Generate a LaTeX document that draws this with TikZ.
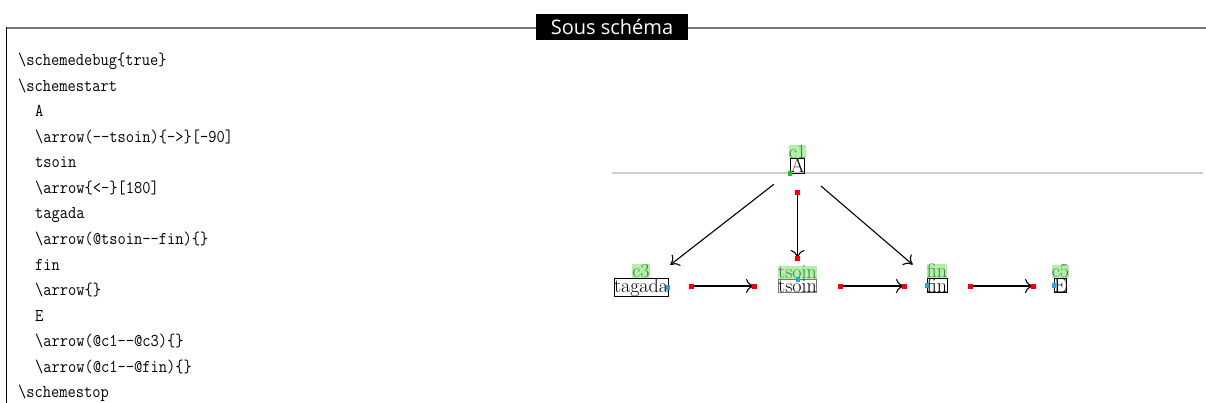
\documentclass[tikz,border=0pt]{standalone}
\usepackage{fontspec}
\newfontfamily\titlefont{Open Sans}
\usetikzlibrary{arrows.meta}
\definecolor{lblbg}{RGB}{178,240,170}
\definecolor{lbltx}{RGB}{75,125,75}
\definecolor{dbgred}{RGB}{250,0,0}
\definecolor{dbgblue}{RGB}{30,170,230}
\definecolor{dbggreen}{RGB}{20,200,20}
\definecolor{framegray}{RGB}{120,120,120}
\definecolor{basegray}{RGB}{205,205,205}
\newcommand\codefont{\ttfamily\fontsize{18}{22}\selectfont}
\newcommand\cl[1]{\scalebox{0.89}[1]{#1}}
\newcommand\bs{\textbackslash}
\tikzset{
  codeline/.style={anchor=base west, inner sep=0pt, font=\codefont},
  molbox/.style={draw, line width=0.8pt, inner sep=0pt, anchor=base, font=\fontsize{20}{24}\selectfont},
  lbl/.style={fill=lblbg, text=lbltx, inner sep=0pt, anchor=south, font=\fontsize{20}{24}\selectfont},
  redsq/.style={fill=dbgred, minimum size=5pt, inner sep=0pt},
  bluesq/.style={fill=dbgblue, minimum width=4pt, minimum height=5pt, inner sep=0pt},
  greensq/.style={fill=dbggreen, minimum size=4.5pt, inner sep=0pt},
  rarrow/.style={line width=1.1pt, -{To[length=8pt,width=14pt]}},
}
\begin{document}
\begin{tikzpicture}[x=1pt,y=-1pt]
\useasboundingbox (0,0) rectangle (1206,403);
% frame
\draw[framegray, line width=1.8pt] (6,28) -- (1206,28);
\draw[black, line width=1.3pt] (6.5,27.2) -- (6.5,403);
\node[fill=black, text=white, minimum width=152pt, minimum height=26pt, inner sep=0pt] (title) at (612,27) {\titlefont\fontsize{20}{24}\selectfont Sous schéma};
% code
\node[codeline] (l0) at (18,66) {\cl{\bs schemedebug\{true\}}};
\node[codeline] (l1) at (18,91.5) {\cl{\bs schemestart}};
\node[codeline] (l2) at (35,117) {\cl{A}};
\node[codeline] (l3) at (35,142.5) {\cl{\bs arrow(-{}-tsoin)\{-{}>\}[-90]}};
\node[codeline] (l4) at (35,168) {\cl{tsoin}};
\node[codeline] (l5) at (35,193.5) {\cl{\bs arrow\{<-\}[180]}};
\node[codeline] (l6) at (35,219) {\cl{tagada}};
\node[codeline] (l7) at (35,244.5) {\cl{\bs arrow(@tsoin-{}-fin)\{\}}};
\node[codeline] (l8) at (35,270) {\cl{fin}};
\node[codeline] (l9) at (35,295.5) {\cl{\bs arrow\{\}}};
\node[codeline] (l10) at (35,321) {\cl{E}};
\node[codeline] (l11) at (35,346.5) {\cl{\bs arrow(@c1-{}-@c3)\{\}}};
\node[codeline] (l12) at (35,372) {\cl{\bs arrow(@c1-{}-@fin)\{\}}};
\node[codeline] (l13) at (18,397.5) {\cl{\bs schemestop}};
% baseline
\draw[basegray, line width=1.3pt] (612,173) -- (1203,173);
% molecules
\node[molbox] (A) at (797.5,173) {A};
\node[molbox] (tagada) at (641,292.5) {tagada};
\node[molbox, draw=framegray, line width=1.2pt] (tsoin) at (797.5,292.5) {tsoin};
\node[molbox] (fin) at (937,292.5) {fin};
\node[molbox] (E) at (1060.5,292.5) {E};
% labels
\node[lbl] (lc1) at (A.north) {c1};
\node[lbl] (lc3) at (tagada.north) {c3};
\node[lbl] (ltsoin) at (tsoin.north) {tsoin};
\node[lbl] (lfin) at (fin.north) {fin};
\node[lbl] (lc5) at (E.north) {c5};
% debug anchors
\node[greensq] (gA) at (A.south west) {};
\node[bluesq] (btag) at (tagada.east) {};
\node[bluesq] (btso) at (tsoin.north) {};
\node[bluesq] (bfin) at (fin.west) {};
\node[bluesq] (bE) at (E.west) {};
% arrow end points
\coordinate (v1) at (797.5,193);
\coordinate (v2) at (797.5,258);
\coordinate (h1) at (691,286);
\coordinate (h2) at (754,286);
\coordinate (h3) at (840,286);
\coordinate (h4) at (904,286);
\coordinate (h5) at (970,286);
\coordinate (h6) at (1033,286);
% arrows
\draw[rarrow] (v1) -- (v2);
\draw[rarrow] (h1) -- (h2);
\draw[rarrow] (h3) -- (h4);
\draw[rarrow] (h5) -- (h6);
\draw[rarrow, shorten <=30pt, shorten >=37pt] (A.center) -- (tagada.center);
\draw[rarrow, shorten <=31pt, shorten >=32pt] (A.center) -- (fin.center);
\foreach \p in {v1,v2,h1,h2,h3,h4,h5,h6} \node[redsq] (r\p) at (\p) {};
\end{tikzpicture}
\end{document}
